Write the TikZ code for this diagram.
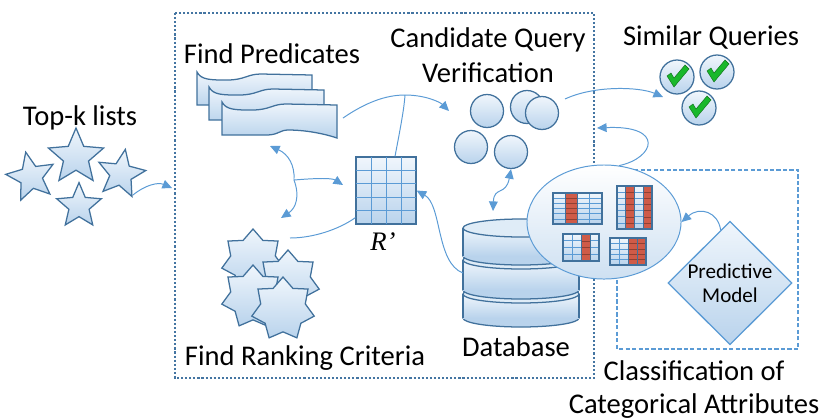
\documentclass[tikz,border=0pt]{standalone}
\usepackage{fontspec}
\setmainfont{Carlito}
\newfontfamily\primefont{Liberation Serif}
\usepackage{tikz}
\usetikzlibrary{shapes,arrows.meta,positioning}

\definecolor{edge}{HTML}{41719C}
\definecolor{flow}{HTML}{5B9BD5}
\definecolor{paleblue}{HTML}{F0F6FC}
\definecolor{midblue}{HTML}{B9D3EC}
\definecolor{colred}{HTML}{CF5B48}
\definecolor{tick}{HTML}{19B82B}

% one wavy sheet, top left corner at (#1,#2)
\newcommand{\wavedoc}[2]{%
  \begin{scope}[shift={(#1,#2)}]
    \path[Sheet] (0,0) .. controls (4,8) and (14,8) .. (30,8)
      .. controls (48,8) and (50,2) .. (64,2) -- (115,3) -- (115,36)
      .. controls (100,31) and (82,28) .. (66,28)
      .. controls (58,28) and (56,33) .. (45,33) -- (0,33) -- cycle;
  \end{scope}}

% one disk of the database, top and bottom centre heights
\newcommand{\dbdisk}[2]{%
  \filldraw[draw=edge, line width=0.9pt, fill=midblue] (521,#2) ellipse [x radius=58, y radius=9];
  \shade[top color=paleblue, bottom color=midblue] (463,#1) rectangle (579,#2);
  \draw[edge, line width=0.9pt] (463,#1) -- (463,#2) (579,#1) -- (579,#2);
  \filldraw[draw=edge, line width=0.9pt, fill=paleblue!70!midblue] (521,#1) ellipse [x radius=58, y radius=9];}

% small table: x, y, width, height, rows, red columns (of 4)
\newcommand{\minitab}[6]{%
  \begin{scope}[shift={(#1,#2)}]
    \shade[top color=paleblue, bottom color=midblue] (0,0) rectangle (#3,#4);
    \pgfmathtruncatemacro{\nr}{#5-1}
    \foreach \r in {1,...,\nr} \draw[flow, line width=0.4pt] (0,{\r*#4/#5}) -- (#3,{\r*#4/#5});
    \foreach \c in {1,2,3} \draw[flow, line width=0.4pt] ({\c*#3/4},0) -- ({\c*#3/4},#4);
    \foreach \c in {#6} {
      \fill[colred] ({(\c-1)*#3/4},0) rectangle ({\c*#3/4},#4);
      \foreach \r in {1,...,\nr} \draw[colred!70!black, line width=0.3pt] ({(\c-1)*#3/4},{\r*#4/#5}) -- ({\c*#3/4},{\r*#4/#5});
      \draw[edge, line width=0.7pt] ({(\c-1)*#3/4},0) rectangle ({\c*#3/4},#4);
    }
    \draw[edge, line width=0.9pt] (0,0) rectangle (#3,#4);
  \end{scope}}

\begin{document}
\begin{tikzpicture}[x=0.025cm, y=-0.025cm]
	\tikzstyle{Sheet}	= [draw=edge, line width=0.9pt, top color=paleblue, bottom color=midblue]
	\tikzstyle{Label}	= [font=\fontsize{20.3}{24.8}\selectfont, inner sep=0pt, anchor=base]
	\tikzstyle{Flow}	= [draw=flow, line width=0.7pt]
	\tikzstyle{Tip}		= [-{Triangle[length=2.4mm, width=2.2mm]}]
	\tikzstyle{Tips}	= [{Triangle[length=2.4mm, width=2.2mm]}-{Triangle[length=2.4mm, width=2.2mm]}]
	\tikzstyle{Ball}	= [circle, Sheet, minimum size=0.825cm, inner sep=0pt]
	\tikzstyle{Check}	= [circle, Sheet, minimum size=0.85cm, inner sep=0pt]
	\tikzstyle{Top}		= [star, star points=5, star point ratio=2.2, Sheet, inner sep=0pt]
	\tikzstyle{Rank}	= [star, star points=7, star point ratio=1.4, Sheet, minimum size=1.6cm, inner sep=0pt]
	\tikzstyle{Tick}	= [fill=tick, draw=tick!60!black, line width=0.3pt]

	\useasboundingbox (0,0) rectangle (823,417);

	% frames
	\draw[flow, line width=0.9pt, dash pattern=on 3pt off 1.6pt] (617,170) rectangle (798,349);
	\draw[edge!90!flow, line width=1.7pt, dash pattern=on 1.5pt off 1.4pt] (175,13) rectangle (594,378);

	% top-k lists
	\node[Label] (topk) at (80,125) {Top-k lists};
	\node (s1) at (76,157) [Top, minimum size=1.45cm] {};
	\node (s2) at (31,177) [Top, minimum size=1.27cm, rotate=12] {};
	\node (s3) at (121,174) [Top, minimum size=1.25cm, rotate=-10] {};
	\node (s4) at (79,206) [Top, minimum size=1.17cm] {};
	\coordinate (in) at (172,188);
	\draw[Flow, Tip] (133,195) .. controls (145,185) and (158,182) .. (in);

	% predicates
	\node[Label] (fp) at (272,63) {Find Predicates};
	\wavedoc{197}{72}
	\wavedoc{209}{87}
	\wavedoc{222}{102}
	\node (preds) at (267,105) [minimum width=3.5cm, minimum height=1.65cm] {};

	% R'
	\node (rp) at (386,190.5) [rectangle, Sheet, minimum width=1.5cm, minimum height=1.675cm, inner sep=0pt] {};
	\foreach \i in {1,2,3} \draw[flow, line width=0.5pt] (356+15*\i,157) -- (356+15*\i,224);
	\foreach \i in {1,...,4} \draw[flow, line width=0.5pt] (356,157+13.4*\i) -- (416,157+13.4*\i);
	\draw[edge, line width=0.9pt] (rp.north west) rectangle (rp.south east);
	\node (rlabel) at (383,250) [anchor=base, inner sep=0pt, font=\primefont\fontsize{19}{20}\selectfont\itshape] {R’};

	% ranking criteria
	\node (k1) at (253,261) [Rank] {};
	\node (k2) at (288,282) [Rank] {};
	\node (k3) at (253,297) [Rank] {};
	\node (k4) at (283,309) [Rank] {};
	\node[Label] (frc) at (305,365) {Find Ranking Criteria};

	% candidate queries
	\node[Label, align=center] (cqv) at (488,82) {Candidate Query\\Verification};
	\node (c1) at (487,111) [Ball] {};
	\node (c2) at (527,107) [Ball] {};
	\node (c3) at (542,113) [Ball] {};
	\node (c4) at (471,147) [Ball] {};
	\node (c5) at (511,152) [Ball] {};

	% similar queries
	\node[Label] (sq) at (711,45) {Similar Queries};
	\foreach \q/\x/\y in {q1/677/77, q2/717/72, q3/699/108} {
		\node (\q) at (\x,\y) [Check] {};
		\path[Tick, shift={(\x,\y)}] (-10,-1) -- (-6,-4) -- (-3,1) -- (8,-12) -- (12,-8) -- (-3,10) -- cycle;
	}

	% database
	\dbdisk{294}{318}
	\dbdisk{260}{290}
	\dbdisk{228}{256}
	\node (db) at (521,273) [minimum width=2.9cm, minimum height=2.7cm] {};
	\node[Label] (dbl) at (516,356) {Database};

	% categorical attributes
	\node (ell) at (604,222) [ellipse, draw=flow, line width=0.7pt, top color=white, bottom color=midblue!70, minimum width=3.85cm, minimum height=2.85cm] {};
	\minitab{553}{193}{49}{31}{6}{2}
	\minitab{617}{186}{35}{43}{7}{2,4}
	\minitab{563}{234}{36}{27}{4}{3}
	\minitab{610}{238}{36}{27}{5}{3,4}
	\node (pm) at (730,283) [diamond, Sheet, draw=flow, minimum width=3.1cm, minimum height=2.95cm, inner sep=0pt, align=center, font=\fontsize{15}{17}\selectfont] {Predictive\\Model};
	\node[Label, align=center, font=\fontsize{20.3}{23.4}\selectfont] (cca) at (694,413) {Classification of\\Categorical Attributes};

	% connectors
	\coordinate (hubP) at (405,95);
	\coordinate (hubL) at (294,180);
	\draw[Flow] (343,118) .. controls (365,103) and (385,95) .. (hubP);
	\draw[Flow, Tip] (hubP) .. controls (425,95) and (440,102) .. (449,111);
	\draw[Flow] ([shift={(9,0)}]rp.north) .. controls (400,130) and (404,110) .. (hubP);
	\draw[Flow, Tip] (hubL) .. controls (295,165) and (288,154) .. (270,146);
	\draw[Flow, Tip] (hubL) .. controls (318,178) and (332,178) .. (343,185);
	\draw[Flow, Tip] (hubL) .. controls (300,196) and (296,208) .. (281,218);
	\draw[Flow] ([shift={(0,-7)}]rp.south west) .. controls (338,230) and (312,238) .. (290,238);
	\draw[Flow, Tip] (463,273) .. controls (436,263) and (442,205) .. (rp.east);
	\draw[Flow, Tips] (c5.south) .. controls (506,196) and (494,186) .. (493,211);
	\draw[Flow, Tip] (565,99) .. controls (595,85) and (640,87) .. (663,97);
	\draw[Flow, Tip] (ell.75) .. controls (655,158) and (665,125) .. (597,128);
	\draw[Flow, Tip] (pm.100) .. controls (718,212) and (700,206) .. (ell.east);
\end{tikzpicture}
\end{document}
